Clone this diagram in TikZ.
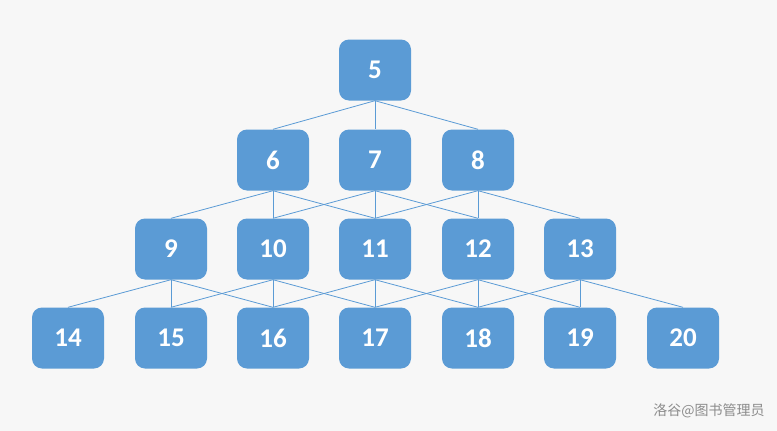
\documentclass[tikz,border=0pt]{standalone}
\usepackage{fontspec}
\setmainfont{Carlito}
\newfontfamily\cjk{Noto Sans CJK SC}
\usepackage{tikz}
\definecolor{boxblue}{HTML}{5B9BD5}
\definecolor{bgpaper}{HTML}{F7F7F7}
\tikzset{
  key/.style={fill=boxblue, draw=none, rounded corners=10pt, minimum width=72pt,
    minimum height=61pt, inner sep=0pt, text=white,
    font=\bfseries\fontsize{27}{27}\selectfont},
  link/.style={draw=boxblue, line width=0.8pt}
}

\begin{document}
\begin{tikzpicture}[x=1pt,y=-1pt]
%background
\fill[bgpaper] (0,0) rectangle (777,431);
\useasboundingbox (0,0) rectangle (777,431);

%put nodes
%row 1
\node[key] (n5) at (375,70) {5};
%row 2
\node[key] (n6) at (273,160) {6};
\node[key] (n7) at (375,160) {7};
\node[key] (n8) at (478,160) {8};
%row 3
\node[key] (n9) at (171,249) {9};
\node[key] (n10) at (273,249) {10};
\node[key] (n11) at (375,249) {11};
\node[key] (n12) at (478,249) {12};
\node[key] (n13) at (580,249) {13};
%row 4
\node[key] (n14) at (68,338) {14};
\node[key] (n15) at (171,338) {15};
\node[key] (n16) at (273,338) {16};
\node[key] (n17) at (375,338) {17};
\node[key] (n18) at (478,338) {18};
\node[key] (n19) at (580,338) {19};
\node[key] (n20) at (683,338) {20};

%plot the links
%row 1 to row 2
\draw[link] (n5.south) -- (n6.north);
\draw[link] (n5.south) -- (n7.north);
\draw[link] (n5.south) -- (n8.north);
%row 2 to row 3
\draw[link] (n6.south) -- (n9.north);
\draw[link] (n6.south) -- (n10.north);
\draw[link] (n6.south) -- (n11.north);
\draw[link] (n7.south) -- (n10.north);
\draw[link] (n7.south) -- (n11.north);
\draw[link] (n7.south) -- (n12.north);
\draw[link] (n8.south) -- (n11.north);
\draw[link] (n8.south) -- (n12.north);
\draw[link] (n8.south) -- (n13.north);
%row 3 to row 4
\draw[link] (n9.south) -- (n14.north);
\draw[link] (n9.south) -- (n15.north);
\draw[link] (n9.south) -- (n16.north);
\draw[link] (n10.south) -- (n15.north);
\draw[link] (n10.south) -- (n16.north);
\draw[link] (n10.south) -- (n17.north);
\draw[link] (n11.south) -- (n16.north);
\draw[link] (n11.south) -- (n17.north);
\draw[link] (n11.south) -- (n18.north);
\draw[link] (n12.south) -- (n17.north);
\draw[link] (n12.south) -- (n18.north);
\draw[link] (n12.south) -- (n19.north);
\draw[link] (n13.south) -- (n18.north);
\draw[link] (n13.south) -- (n19.north);
\draw[link] (n13.south) -- (n20.north);

%label
\node[text=black!45, font=\cjk\fontsize{14}{14}\selectfont] (mark) at (709,411) {洛谷@图书管理员};
\end{tikzpicture}
\end{document}
